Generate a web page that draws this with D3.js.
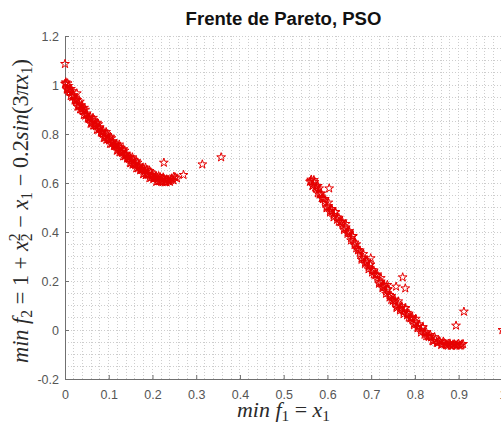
<!DOCTYPE html>
<html>
<head>
<meta charset="utf-8">
<script src="https://cdn.jsdelivr.net/npm/d3@7"></script>
<style>
  html, body { margin: 0; padding: 0; background: #fff; overflow: hidden; }
  svg { display: block; }
</style>
</head>
<body>
<svg id="chart" width="501" height="425"></svg>
<script>
// Non-dominated solutions found by PSO: [f1, f2]
// First segment of the front (f1 in 0 .. 0.26)
const frontA = [
  [0.000,1.005],[0.002,1.011],[0.004,0.985],[0.006,1.007],[0.008,0.977],[0.010,0.983],
  [0.013,0.955],[0.016,0.975],[0.019,0.955],[0.022,0.937],[0.025,0.935],[0.028,0.939],
  [0.031,0.912],[0.034,0.932],[0.037,0.901],[0.040,0.905],[0.043,0.878],[0.046,0.899],
  [0.049,0.879],[0.052,0.863],[0.055,0.863],[0.058,0.869],[0.061,0.843],[0.064,0.866],
  [0.067,0.836],[0.070,0.843],[0.073,0.817],[0.076,0.840],[0.079,0.822],[0.082,0.806],
  [0.085,0.806],[0.088,0.811],[0.091,0.785],[0.094,0.808],[0.097,0.778],[0.100,0.785],
  [0.103,0.760],[0.106,0.783],[0.109,0.766],[0.112,0.751],[0.115,0.752],[0.118,0.759],
  [0.121,0.734],[0.124,0.757],[0.127,0.727],[0.130,0.734],[0.133,0.709],[0.136,0.732],
  [0.139,0.715],[0.142,0.700],[0.145,0.701],[0.148,0.707],[0.151,0.682],[0.154,0.705],
  [0.157,0.677],[0.160,0.684],[0.163,0.660],[0.166,0.683],[0.169,0.666],[0.172,0.652],
  [0.175,0.655],[0.178,0.663],[0.181,0.639],[0.184,0.663],[0.187,0.635],[0.190,0.643],
  [0.193,0.620],[0.196,0.644],[0.199,0.629],[0.202,0.616],[0.205,0.620],[0.208,0.630],
  [0.211,0.607],[0.214,0.628],[0.217,0.608],[0.220,0.618],[0.223,0.603],[0.226,0.618],
  [0.229,0.611],[0.232,0.603],[0.236,0.613],[0.240,0.605],[0.244,0.619],[0.248,0.611],
  [0.252,0.623],[0.256,0.619],
  [0.0015,1.006],[0.0045,0.981],[0.0075,0.996],[0.0105,0.972],[0.0135,0.984],[0.0165,0.951],
  [0.0195,0.959],[0.0225,0.942],[0.0255,0.938],[0.0285,0.912],[0.0315,0.924],[0.0345,0.901],
  [0.0375,0.917],[0.0405,0.894],[0.0435,0.907],[0.0465,0.875],[0.0495,0.884],[0.0525,0.868],
  [0.0555,0.866],[0.0585,0.842],[0.0615,0.856],[0.0645,0.835],[0.0675,0.854],[0.0705,0.832],
  [0.0735,0.846],[0.0765,0.817],[0.0795,0.827],[0.0825,0.811],[0.0855,0.808],[0.0885,0.784],
  [0.0915,0.798],[0.0945,0.777],[0.0975,0.795],[0.1005,0.774],[0.1035,0.789],[0.1065,0.760],
  [0.1095,0.771],[0.1125,0.756],[0.1155,0.755],[0.1185,0.732],[0.1215,0.747],[0.1245,0.726],
  [0.1275,0.744],[0.1305,0.723],[0.1335,0.738],[0.1365,0.709],[0.1395,0.720],[0.1425,0.705],
  [0.1455,0.704],[0.1485,0.681],[0.1515,0.696],[0.1545,0.675],[0.1575,0.694],[0.1605,0.673],
  [0.1635,0.689],[0.1665,0.660],[0.1695,0.672],[0.1725,0.657],[0.1755,0.658],[0.1785,0.636],
  [0.1815,0.652],[0.1845,0.632],[0.1875,0.653],[0.1905,0.633],[0.1935,0.649],[0.1965,0.622],
  [0.1995,0.634],[0.2025,0.622],[0.2055,0.623],[0.2085,0.605],[0.2115,0.621],[0.2145,0.607],
  [0.2175,0.624],[0.2205,0.608],[0.2245,0.623],[0.2285,0.603],[0.2325,0.615],[0.2365,0.607],
  [0.2425,0.612]
];
// Second segment of the front (f1 in 0.56 .. 0.91)
const frontB = [
  [0.560,0.605],[0.563,0.614],[0.566,0.590],[0.569,0.612],[0.572,0.582],[0.575,0.586],
  [0.578,0.558],[0.581,0.578],[0.584,0.557],[0.587,0.538],[0.590,0.535],[0.594,0.535],
  [0.598,0.503],[0.602,0.520],[0.606,0.486],[0.610,0.488],[0.614,0.460],[0.618,0.480],
  [0.622,0.460],[0.626,0.442],[0.630,0.440],[0.634,0.443],[0.638,0.414],[0.642,0.433],
  [0.646,0.399],[0.650,0.398],[0.654,0.366],[0.658,0.382],[0.662,0.357],[0.666,0.334],
  [0.670,0.326],[0.674,0.325],[0.678,0.293],[0.682,0.310],[0.686,0.276],[0.690,0.278],
  [0.694,0.248],[0.698,0.266],[0.702,0.245],[0.706,0.227],[0.710,0.225],[0.714,0.227],
  [0.718,0.195],[0.722,0.212],[0.726,0.177],[0.730,0.178],[0.734,0.148],[0.738,0.165],
  [0.742,0.143],[0.746,0.123],[0.750,0.120],[0.754,0.124],[0.758,0.096],[0.762,0.117],
  [0.766,0.086],[0.770,0.091],[0.774,0.065],[0.778,0.088],[0.782,0.070],[0.786,0.051],
  [0.790,0.048],[0.794,0.053],[0.798,0.026],[0.802,0.046],[0.806,0.013],[0.810,0.017],
  [0.814,-0.010],[0.818,0.010],[0.822,-0.009],[0.826,-0.025],[0.830,-0.025],[0.835,-0.020],
  [0.840,-0.044],[0.845,-0.029],[0.850,-0.052],[0.855,-0.044],[0.860,-0.061],[0.865,-0.047],
  [0.870,-0.057],[0.875,-0.064],[0.880,-0.055],[0.885,-0.064],[0.890,-0.058],[0.895,-0.064],
  [0.900,-0.056],[0.905,-0.063],[0.910,-0.057],
  [0.562,0.609],[0.566,0.588],[0.570,0.604],[0.574,0.578],[0.578,0.588],[0.582,0.553],
  [0.586,0.557],[0.590,0.535],[0.594,0.527],[0.598,0.497],[0.602,0.506],[0.606,0.480],
  [0.610,0.494],[0.614,0.470],[0.618,0.482],[0.622,0.450],[0.626,0.458],[0.630,0.440],
  [0.634,0.435],[0.638,0.408],[0.642,0.419],[0.646,0.393],[0.650,0.404],[0.654,0.376],
  [0.658,0.384],[0.662,0.347],[0.666,0.350],[0.670,0.326],[0.674,0.317],[0.678,0.287],
  [0.682,0.296],[0.686,0.270],[0.690,0.284],[0.694,0.258],[0.698,0.268],[0.702,0.235],
  [0.706,0.243],[0.710,0.225],[0.714,0.219],[0.718,0.189],[0.722,0.198],[0.726,0.171],
  [0.730,0.184],[0.734,0.158],[0.738,0.167],[0.742,0.133],[0.746,0.139],[0.750,0.120],
  [0.754,0.116],[0.758,0.090],[0.762,0.103],[0.766,0.080],[0.770,0.097],[0.774,0.075],
  [0.778,0.090],[0.782,0.060],[0.786,0.067],[0.790,0.048],[0.794,0.045],[0.798,0.020],
  [0.802,0.032],[0.806,0.007],[0.810,0.023],[0.814,0.000],[0.818,0.012],[0.822,-0.019],
  [0.826,-0.009],[0.832,-0.028],[0.837,-0.030],[0.842,-0.046],[0.847,-0.039],[0.852,-0.053],
  [0.857,-0.047],[0.862,-0.058],[0.867,-0.054],[0.872,-0.062],[0.877,-0.056],[0.882,-0.064],
  [0.887,-0.059],[0.892,-0.062],[0.897,-0.059],[0.902,-0.064],[0.907,-0.059]
];
// Isolated solutions lying off the two segments
const strays = [
  [0.000,1.086],[0.027,0.966],[0.078,0.827],[0.139,0.717],[0.226,0.683],[0.249,0.626],
  [0.271,0.633],[0.314,0.676],[0.357,0.705],[0.604,0.578],[0.699,0.293],[0.737,0.184],
  [0.757,0.177],[0.772,0.215],[0.778,0.170],[0.894,0.018],[0.912,0.075],[1.000,0.000]
];

const xTicks = [0, 0.1, 0.2, 0.3, 0.4, 0.5, 0.6, 0.7, 0.8, 0.9, 1];
const yTicks = [-0.2, 0, 0.2, 0.4, 0.6, 0.8, 1, 1.2];
const xMinorStep = 0.02;
const yMinorStep = 0.05;
const titleText = "Frente de Pareto, PSO";

const svg = d3.select("#chart");
svg.append("rect").attr("width", 501).attr("height", 425).attr("fill", "#fff");

const x = d3.scaleLinear().domain([0, 1]).range([65, 502.4]);
const y = d3.scaleLinear().domain([-0.2, 1.2]).range([379, 36]);

// dotted minor grid
const grid = svg.append("g").attr("stroke", "#cdcdcd").attr("stroke-width", 1)
  .attr("stroke-dasharray", "1,2").attr("shape-rendering", "crispEdges");
const xMinor = d3.range(0, 1 + 1e-9, xMinorStep);
const yMinor = d3.range(-0.2, 1.2 + 1e-9, yMinorStep);
grid.selectAll("line.vx").data(xMinor).join("line")
  .attr("x1", d => x(d)).attr("x2", d => x(d))
  .attr("y1", y(-0.2)).attr("y2", y(1.2));
grid.selectAll("line.hy").data(yMinor).join("line")
  .attr("x1", x(0)).attr("x2", x(1))
  .attr("y1", d => y(d)).attr("y2", d => y(d));

const fmt = d => String(+d.toFixed(2));
const sansFont = "'Liberation Sans', Arial, Helvetica, sans-serif";

const xAxis = svg.append("g").attr("transform", `translate(0,${y(-0.2)})`)
  .call(d3.axisBottom(x).tickValues(xTicks).tickFormat(fmt)
    .tickSizeInner(-4).tickSizeOuter(0).tickPadding(11.5));
const yAxis = svg.append("g").attr("transform", `translate(${x(0)},0)`)
  .call(d3.axisLeft(y).tickValues(yTicks).tickFormat(fmt)
    .tickSizeInner(-4).tickSizeOuter(0).tickPadding(6));

[xAxis, yAxis].forEach(g => {
  g.attr("font-family", sansFont).attr("font-size", 12.5);
  g.select(".domain").attr("stroke", "#707070").attr("stroke-width", 1);
  g.selectAll(".tick line").attr("stroke", "#707070");
  g.selectAll(".tick text").attr("fill", "#555");
});

// markers
const star = d3.symbol().type(d3.symbolStar).size(24);
const pts = frontA.concat(frontB, strays);
svg.append("g").selectAll("path").data(pts).join("path")
  .attr("d", star)
  .attr("transform", d => `translate(${x(d[0])},${y(d[1])})`)
  .attr("fill", "none").attr("stroke", "#e60000").attr("stroke-width", 1);

// scale a text's font size so that it spans the given width
function fitSize(build, target, start) {
  const probe = build(start);
  const len = probe.node().getComputedTextLength();
  probe.remove();
  return build(start * target / len);
}

// title
fitSize(s => svg.append("text").attr("x", 283.5).attr("y", 25)
  .attr("text-anchor", "middle").attr("font-family", sansFont)
  .attr("font-weight", "bold").attr("font-size", s).attr("fill", "#111")
  .text(titleText), 196, 17);

// math-style labels built from tspans
const mathFont = "'Liberation Serif', 'DejaVu Serif', serif";
function mathLabel(parent, parts, size) {
  const t = parent.append("text").attr("font-family", mathFont)
    .attr("font-size", size).attr("fill", "#2a2a2a").attr("text-anchor", "middle");
  let shift = 0;
  parts.forEach(p => {
    const s = t.append("tspan").text(p.t);
    if (p.i) s.attr("font-style", "italic");
    let target = 0;
    if (p.sub) { s.attr("font-size", size * 0.7); target = size * 0.2; }
    if (p.sup) { s.attr("font-size", size * 0.7); target = -size * 0.38; }
    if (target !== shift) { s.attr("dy", target - shift); shift = target; }
    if (p.back) s.attr("dx", -size * 0.7 * 0.5);
  });
  return t;
}

const xLabelParts = [
  { t: "min", i: 1 }, { t: " " }, { t: "f", i: 1 }, { t: "1", sub: 1 },
  { t: " = " }, { t: "x", i: 1 }, { t: "1", sub: 1 }
];
const yLabelParts = [
  { t: "min", i: 1 }, { t: " " }, { t: "f", i: 1 }, { t: "2", sub: 1 },
  { t: " = 1 + " }, { t: "x", i: 1 }, { t: "2", sup: 1 }, { t: "2", sub: 1, back: 1 },
  { t: " − " }, { t: "x", i: 1 }, { t: "1", sub: 1 },
  { t: " − 0.2" }, { t: "sin", i: 1 }, { t: "(3" }, { t: "πx", i: 1 }, { t: "1", sub: 1 },
  { t: ")" }
];

const xLabelG = svg.append("g").attr("transform", "translate(283.5,416.5)");
fitSize(s => mathLabel(xLabelG, xLabelParts, s), 93, 17);
const yLabelG = svg.append("g").attr("transform", "translate(28,211) rotate(-90)");
fitSize(s => mathLabel(yLabelG, yLabelParts, s), 312, 17);
</script>
</body>
</html>
